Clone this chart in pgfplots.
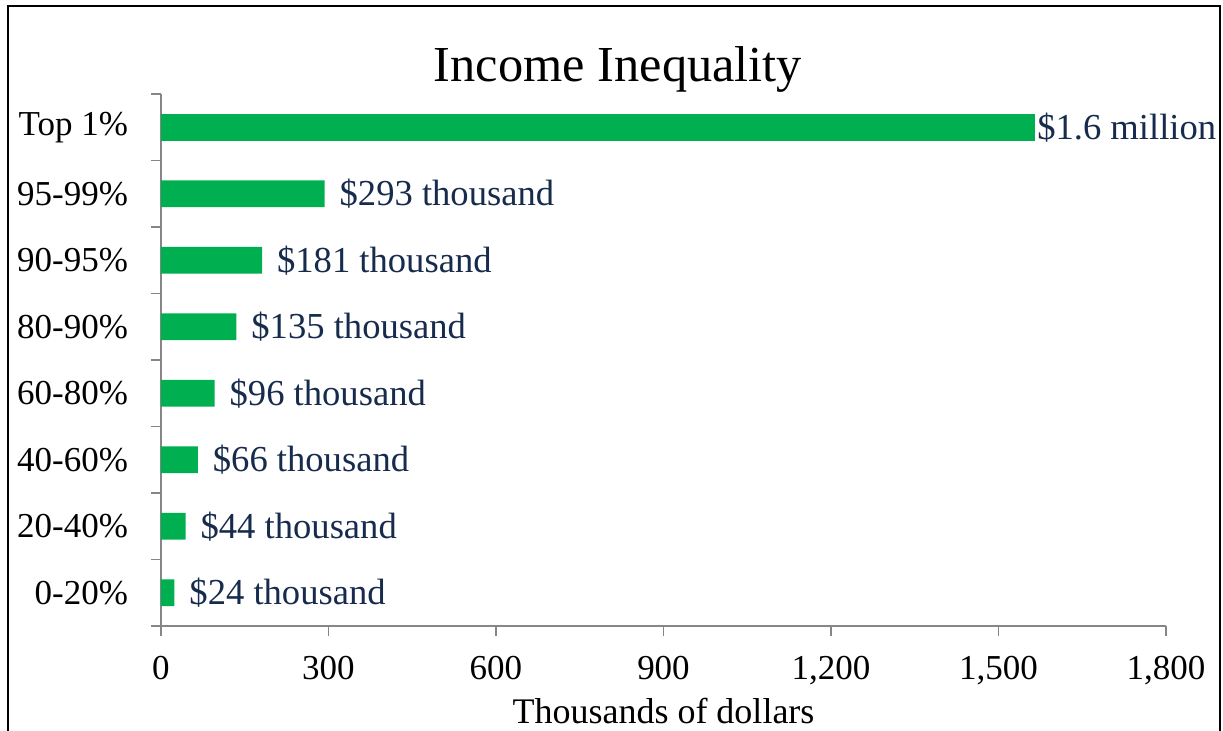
\documentclass[border=0pt]{standalone}
\usepackage{fontspec}
\setmainfont{Liberation Serif}
\usepackage{pgfplots}
\pgfplotsset{compat=1.18}
\definecolor{barg}{RGB}{0,176,80}
\definecolor{lbl}{RGB}{23,43,77}
\definecolor{axg}{RGB}{134,134,134}
\begin{document}
\begin{tikzpicture}
\useasboundingbox (0,0) rectangle (611.5pt,-365.5pt);
\draw[line width=1pt] (4pt,-370pt) -- (4pt,-3pt) -- (609.75pt,-3pt) -- (609.75pt,-370pt);
\node[anchor=base, inner sep=0pt, font=\fontsize{25.2}{30}\selectfont] at (309pt,-40.75pt) {Income Inequality};
\begin{axis}[
  at={(80.5pt,-313pt)}, anchor=south west,
  scale only axis, width=502.5pt, height=266pt,
  xbar, bar width=13.3pt, bar shift=0pt,
  xmin=0, xmax=1800, ymin=-0.5, ymax=7.5,
  axis lines*=left,
  axis line style={axg, line width=0.9pt},
  xtick={0,300,...,1800}, tick align=outside, major tick length=5pt,
  tick style={axg, line width=0.9pt},
  ytick={-0.5,0.5,...,7.5}, yticklabels={,,,,,,,,,},
  extra y ticks={0,1,2,3,4,5,6,7},
  extra y tick labels={0-20\%,20-40\%,40-60\%,60-80\%,80-90\%,90-95\%,95-99\%,Top 1\%},
  extra y tick style={major tick length=0pt, tick style={draw=none}, yticklabel style={xshift=-13pt}},
  tick label style={font=\fontsize{17.5}{21}\selectfont, text=black},
  xticklabel style={yshift=-6.6pt},
  /pgf/number format/assume math mode=true,
  scaled x ticks=false,
  xlabel={Thousands of dollars},
  xlabel style={font=\fontsize{18}{21}\selectfont, at={(axis description cs:0.5,0)}, anchor=base, yshift=-49pt, inner sep=0pt},
  nodes near coords, point meta=explicit symbolic,
  nodes near coords align={horizontal},
  every node near coord/.append style={font=\fontsize{18.3}{21}\selectfont, text=lbl, anchor=west},
  clip=false,
]
\addplot[fill=barg, draw=none, every node near coord/.append style={xshift=4pt}] coordinates {
 (24,0) [\$24 thousand]
 (44,1) [\$44 thousand]
 (66,2) [\$66 thousand]
 (96,3) [\$96 thousand]
 (135,4) [\$135 thousand]
 (181,5) [\$181 thousand]
 (293,6) [\$293 thousand]
};
\addplot[fill=barg, draw=none, every node near coord/.append style={xshift=-2.3pt}] coordinates {
 (1565,7) [\$1.6 million]
};
\end{axis}
\end{tikzpicture}
\end{document}
